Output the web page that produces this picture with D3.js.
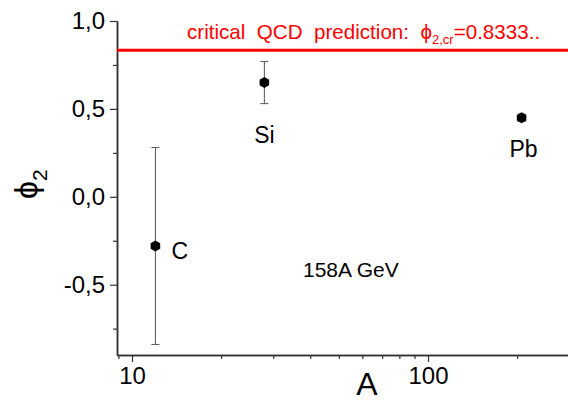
<!DOCTYPE html>
<html>
<head>
<meta charset="utf-8">
<script src="https://cdn.jsdelivr.net/npm/d3@7"></script>
<style>
  body { margin: 0; background: #fff; }
  text { font-family: "Liberation Sans", Arial, sans-serif; }
</style>
</head>
<body>
<svg id="plot" width="568" height="402"></svg>
<script>
// Data
const nuclei = ["C", "Si", "Pb"];
const massNumber = [12, 28, 207];
const phi2 = [-0.28, 0.65, 0.45];
const phi2Err = [0.56, 0.12, 0.02];
const phi2Critical = 0.8333;

// Tick values
const yTicks = [-0.5, 0, 0.5, 1.0];
const yMinorTicks = [-0.75, -0.25, 0.25, 0.75];
const xTicks = [10, 100];
const xMinorTicks = [9, 20, 30, 40, 50, 60, 70, 80, 90, 200];

// Label placement relative to each point (pixels)
const labelOffsets = [[16, 13, "start"], [0, 60, "middle"], [2, 39, "middle"]];

const svg = d3.select("#plot");

// Scales
const x = d3.scaleLog().domain([8.9, 297]).range([117, 568]);
const y = d3.scaleLinear().domain([-0.9, 1.0]).range([355, 21]);

const axisColor = "#333";
const comma = (d) => d.toFixed(1).replace(".", ",");

// Left axis: major ticks with labels
const yAxis = svg.append("g")
    .attr("transform", "translate(" + x.range()[0] + ",0)")
    .call(d3.axisLeft(y).tickValues(yTicks).tickFormat(comma).tickSize(7).tickPadding(5).tickSizeOuter(0));
yAxis.selectAll("text").attr("font-size", "24px").attr("fill", "#000")
    .style("font-family", "Liberation Sans, Arial, sans-serif");

// Left axis: minor ticks
const yMinor = svg.append("g")
    .attr("transform", "translate(" + x.range()[0] + ",0)")
    .call(d3.axisLeft(y).tickValues(yMinorTicks).tickFormat("").tickSize(4).tickSizeOuter(0));

// Bottom axis: major ticks with labels
const xAxis = svg.append("g")
    .attr("transform", "translate(0," + y.range()[0] + ")")
    .call(d3.axisBottom(x).tickValues(xTicks).tickFormat(d3.format("d")).tickSize(7).tickPadding(5).tickSizeOuter(0));
xAxis.selectAll("text").attr("font-size", "24px").attr("fill", "#000")
    .style("font-family", "Liberation Sans, Arial, sans-serif");

// Bottom axis: minor ticks
const xMinor = svg.append("g")
    .attr("transform", "translate(0," + y.range()[0] + ")")
    .call(d3.axisBottom(x).tickValues(xMinorTicks).tickFormat("").tickSize(4).tickSizeOuter(0));

[yAxis, yMinor, xAxis, xMinor].forEach((g) => {
    g.select(".domain").attr("stroke", axisColor).attr("stroke-width", 1.5);
    g.selectAll(".tick line").attr("stroke", axisColor).attr("stroke-width", 1.2);
});

// Critical QCD prediction line
svg.append("line")
    .attr("x1", x.range()[0])
    .attr("x2", x.range()[1])
    .attr("y1", y(phi2Critical))
    .attr("y2", y(phi2Critical))
    .attr("stroke", "#ff0000")
    .attr("stroke-width", 3);

const critLabel = svg.append("text")
    .attr("x", 187)
    .attr("y", 39)
    .attr("fill", "#ff0000")
    .attr("font-size", "20.6px")
    .style("white-space", "pre");
critLabel.append("tspan").text("critical  QCD  prediction:  \u03D5");
critLabel.append("tspan").attr("font-size", "13px").attr("dy", 5).text("2,cr");
critLabel.append("tspan").attr("dy", -5).text("=0.8333..");

// Error bars
const points = svg.append("g");
nuclei.forEach((name, i) => {
    const cx = x(massNumber[i]);
    const lo = y(phi2[i] - phi2Err[i]);
    const hi = y(phi2[i] + phi2Err[i]);
    const g = points.append("g").attr("stroke", "#555").attr("stroke-width", 1);
    g.append("line").attr("x1", cx).attr("x2", cx).attr("y1", lo).attr("y2", hi);
    g.append("line").attr("x1", cx - 4).attr("x2", cx + 4).attr("y1", lo).attr("y2", lo);
    g.append("line").attr("x1", cx - 4).attr("x2", cx + 4).attr("y1", hi).attr("y2", hi);
});

// Hexagon markers
const hexR = 5.5;
const hexagon = d3.range(6).map((k) => {
    const a = Math.PI / 6 + (k * Math.PI) / 3;
    return [hexR * Math.cos(a), hexR * Math.sin(a)];
});
points.selectAll("path.marker")
    .data(nuclei)
    .enter()
    .append("path")
    .attr("class", "marker")
    .attr("d", "M" + hexagon.join("L") + "Z")
    .attr("transform", (d, i) => "translate(" + x(massNumber[i]) + "," + y(phi2[i]) + ")")
    .attr("fill", "#000");

// Nucleus labels
svg.selectAll("text.nucleus")
    .data(nuclei)
    .enter()
    .append("text")
    .attr("class", "nucleus")
    .attr("x", (d, i) => x(massNumber[i]) + labelOffsets[i][0])
    .attr("y", (d, i) => y(phi2[i]) + labelOffsets[i][1])
    .attr("text-anchor", (d, i) => labelOffsets[i][2])
    .attr("font-size", "23px")
    .text((d) => d);

// Energy annotation
svg.append("text")
    .attr("x", 303)
    .attr("y", 277)
    .attr("font-size", "21px")
    .text("158A GeV");

// Axis titles
svg.append("text")
    .attr("x", 367)
    .attr("y", 395)
    .attr("text-anchor", "middle")
    .attr("font-size", "32px")
    .text("A");

const yTitle = svg.append("text")
    .attr("transform", "translate(37,199) rotate(-90)")
    .attr("font-size", "32px");
yTitle.append("tspan").text("\u03D5");
yTitle.append("tspan").attr("font-size", "21px").attr("dy", 10).text("2");
</script>
</body>
</html>
